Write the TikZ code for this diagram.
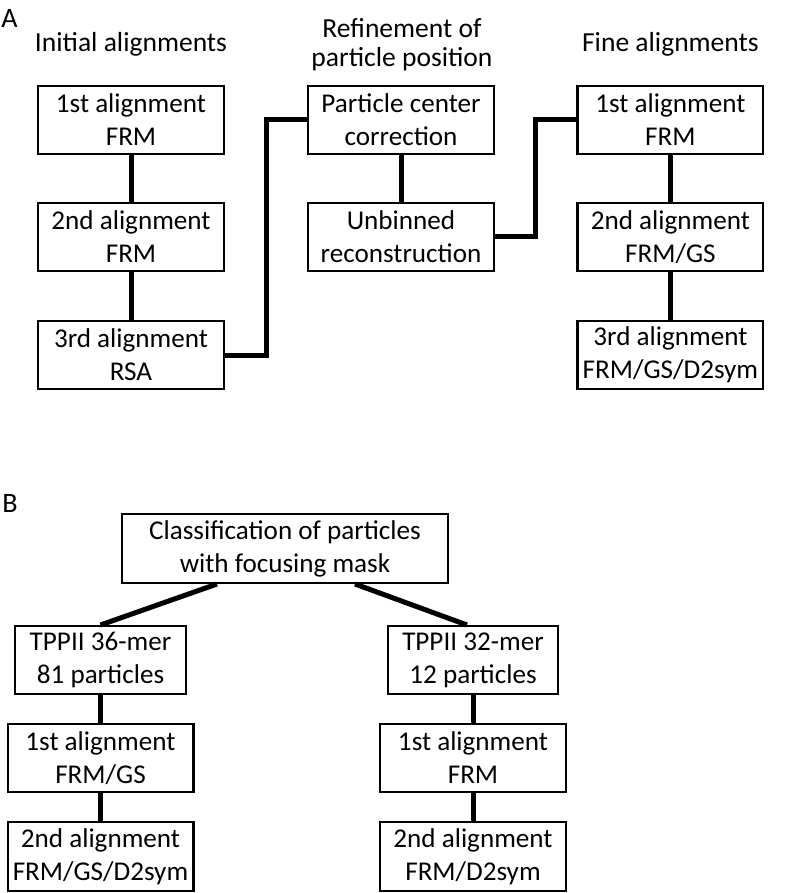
\documentclass[tikz,border=0pt]{standalone}
\usepackage{fontspec}
\setmainfont{Carlito}
\usetikzlibrary{calc}

\begin{document}
\begin{tikzpicture}[
        stage/.style={draw, line width=0.06cm, minimum width=4.64cm, minimum height=1.69cm,
            align=center, inner sep=0pt, font=\fontsize{19.3}{23.5}\selectfont},
        link/.style={line width=0.125cm},
        head/.style={align=center, inner sep=0pt, font=\fontsize{19.6}{21.3}\selectfont},
        panel/.style={anchor=base west, inner sep=0pt, font=\fontsize{20}{22}\selectfont}
    ]
                    \useasboundingbox (0,0) rectangle (19.9,-22.325);

                    % panel A
                    \node[panel] (lblA) at (0.03,-0.7) {A};
                    \node[head, anchor=base] (hinit) at (3.275,-1.3) {Initial alignments};
                    \node[head, anchor=base] (href) at (10.05,-1.675) {Refinement of\\particle position};
                    \node[head, anchor=base] (hfine) at (16.76,-1.3) {Fine alignments};

                    \node[stage] (init1) at (3.275,-3.0) {1st alignment\\FRM};
                    \node[stage] (init2) at (3.275,-5.925) {2nd alignment\\FRM};
                    \node[stage] (init3) at (3.275,-8.875) {3rd alignment\\RSA};

                    \node[stage] (ref1) at (10.025,-3.0) {Particle center\\correction};
                    \node[stage] (ref2) at (10.025,-5.925) {Unbinned\\reconstruction};

                    \node[stage] (fine1) at (16.76,-3.0) {1st alignment\\FRM};
                    \node[stage] (fine2) at (16.76,-5.925) {2nd alignment\\FRM/GS};
                    \node[stage] (fine3) at (16.76,-8.875) {3rd alignment\\FRM/GS/D2sym};

                    \draw[link] (init1) -- (init2);
                    \draw[link] (init2) -- (init3);
                    \draw[link] (init3.east) -| ($(init3.east)!0.5!(ref1.west)$) |- (ref1.west);
                    \draw[link] (ref1) -- (ref2);
                    \draw[link] (ref2.east) -| ($(ref2.east)!0.5!(fine1.west)$) |- (fine1.west);
                    \draw[link] (fine1) -- (fine2);
                    \draw[link] (fine2) -- (fine3);

                    % panel B
                    \node[panel] (lblB) at (0.05,-12.8) {B};
                    \node[stage, minimum width=8.14cm, minimum height=1.715cm] (class) at (7.125,-13.7125) {Classification of particles\\with focusing mask};

                    \node[stage, minimum width=4.265cm] (tp36) at (2.5125,-16.5) {TPPII 36-mer\\81 particles};
                    \node[stage] (left1) at (2.5125,-18.95) {1st alignment\\FRM/GS};
                    \node[stage, minimum height=1.715cm] (left2) at (2.5125,-21.4125) {2nd alignment\\FRM/GS/D2sym};

                    \node[stage, minimum width=4.24cm] (tp32) at (11.825,-16.5) {TPPII 32-mer\\12 particles};
                    \node[stage] (right1) at (11.825,-18.95) {1st alignment\\FRM};
                    \node[stage, minimum height=1.715cm] (right2) at (11.825,-21.4125) {2nd alignment\\FRM/D2sym};

                    \draw[link] ($(class.south)+(-1.7,0)$) -- (tp36.north);
                    \draw[link] ($(class.south)+(1.75,0)$) -- ($(tp32.north)+(-0.15,0)$);
                    \draw[link] (tp36) -- (left1);
                    \draw[link] (left1) -- (left2);
                    \draw[link] (tp32) -- (right1);
                    \draw[link] (right1) -- (right2);

\end{tikzpicture}
\end{document}
